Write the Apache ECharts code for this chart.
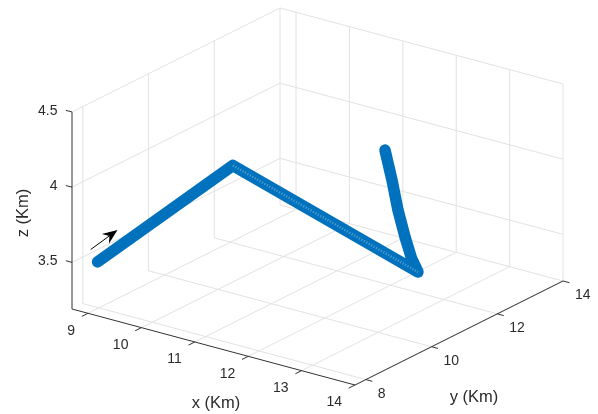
<!DOCTYPE html>
<html>
<head>
<meta charset="utf-8">
<style>html,body{margin:0;padding:0;background:#fff}#c{width:598px;height:414px}</style>
<script src="https://cdn.jsdelivr.net/npm/echarts@6/dist/echarts.min.js"></script>
</head>
<body>
<div id="c"></div>
<script>
// Data
const xTicks = [9, 10, 11, 12, 13, 14];
const yTicks = [8, 10, 12, 14];
const zTicks = [3.5, 4, 4.5];
const xLimits = [8.7, 14];
const yLimits = [7.67, 14];
const zLimits = [3.19, 4.5];
const trackX = [9, 10.13, 13.155, 13.033, 12.912, 12.78, 12.668, 12.537];
const trackY = [7.96, 10.24, 10.96, 10.96, 10.96, 10.96, 10.96, 10.96];
const trackZ = [3.5, 4, 3.501, 3.582, 3.711, 3.8775, 4.066, 4.253];
const xTitle = 'x (Km)', yTitle = 'y (Km)', zTitle = 'z (Km)';
const arrowFrom = [90.7, 249.5];
const arrowTo = [117.5, 230];

// View projection of the 3-D axes box onto the page
function P(x, y, z) {
  const dx = x - xLimits[0], dy = y - yLimits[0], dz = z - zLimits[0];
  return [72 + 53.4 * dx + 32.86 * dy, 309 + 14.34 * dx - 16.43 * dy - 150.4 * dz];
}
const GRID = '#e2e2e2', AXIS = '#333333', TEXT = '#2b2b2b', BLUE = '#0072BD';
const series = [];
function seg(a, b, color, w) {
  series.push({type: 'line', data: [a, b], showSymbol: false, symbol: 'none', silent: true,
    lineStyle: {color: color, width: w}, z: 2, animation: false});
}
const [x0, x1] = xLimits, [y0, y1] = yLimits, [z0, z1] = zLimits;
// walls and floor grid
yTicks.forEach(y => { seg(P(x0, y, z0), P(x0, y, z1), GRID, 1); seg(P(x0, y, z0), P(x1, y, z0), GRID, 1); });
xTicks.forEach(x => { seg(P(x, y1, z0), P(x, y1, z1), GRID, 1); seg(P(x, y0, z0), P(x, y1, z0), GRID, 1); });
zTicks.forEach(z => { seg(P(x0, y0, z), P(x0, y1, z), GRID, 1); seg(P(x0, y1, z), P(x1, y1, z), GRID, 1); });
// axes
seg(P(x0, y0, z0), P(x0, y0, z1), AXIS, 1);
seg(P(x0, y0, z0), P(x1, y0, z0), AXIS, 1);
seg(P(x1, y0, z0), P(x1, y1, z0), AXIS, 1);
// ticks
zTicks.forEach(z => seg(P(x0, y0, z), P(x0 - 0.115, y0, z), AXIS, 1));
xTicks.forEach(x => seg(P(x, y0, z0), P(x, y0 - 0.19, z0), AXIS, 1));
yTicks.forEach(y => seg(P(x1, y, z0), P(x1 + 0.12, y, z0), AXIS, 1));
// trajectory
const trackPts = trackX.map((x, i) => P(x, trackY[i], trackZ[i]));
series.push({type: 'line', name: 'track', data: trackPts,
  showSymbol: false, symbol: 'none', silent: true, z: 5, animation: false,
  lineStyle: {color: BLUE, width: 11.5, cap: 'round', join: 'round'}});
// lighter core where the overlapping ring markers are less dense
series.push({type: 'line', data: trackPts.slice(1, 3), showSymbol: false, symbol: 'none', silent: true, z: 6, animation: false,
  lineStyle: {color: '#a8d0ea', width: 2.5, type: [1.2, 1.6], opacity: 0.45}});
// arrow annotation
series.push({type: 'custom', silent: true, z: 6, animation: false, clip: false,
  data: [[arrowFrom[0], arrowFrom[1], arrowTo[0], arrowTo[1]]],
  renderItem: (params, api) => {
    const a = api.coord([api.value(0), api.value(1)]), b = api.coord([api.value(2), api.value(3)]);
    const L = Math.hypot(b[0] - a[0], b[1] - a[1]), ux = (b[0] - a[0]) / L, uy = (b[1] - a[1]) / L;
    const at = (along, side) => [b[0] - ux * along - uy * side, b[1] - uy * along + ux * side];
    return {type: 'group', children: [
      {type: 'line', shape: {x1: a[0], y1: a[1], x2: at(9, 0)[0], y2: at(9, 0)[1]}, style: {stroke: '#000', lineWidth: 1}},
      {type: 'polygon', shape: {points: [at(0, 0), at(15, 6), at(10, 0), at(15, -6)]}, style: {fill: '#000'}}
    ]};
  }});
// text
const labels = [];
zTicks.forEach(z => { const p = P(x0, y0, z); labels.push({t: String(z), x: p[0] - 14.5, y: p[1] - 1, a: 'right', s: 14}); });
xTicks.forEach(x => { const p = P(x, y0, z0); labels.push({t: String(x), x: p[0] - 13, y: p[1] + 17.5, a: 'right', s: 14}); });
yTicks.forEach(y => { const p = P(x1, y, z0); labels.push({t: String(y), x: p[0] + 12, y: p[1] + 14.5, a: 'left', s: 14}); });
labels.push({t: xTitle, x: 216, y: 403, a: 'center', s: 16.5});
labels.push({t: yTitle, x: 474, y: 397, a: 'center', s: 16.5});
labels.push({t: zTitle, x: 23, y: 213, a: 'center', s: 16.5, r: Math.PI / 2});
series.push({type: 'custom', silent: true, z: 7, animation: false, clip: false,
  data: labels.map((l, i) => [l.x, l.y, i]),
  renderItem: (params, api) => {
    const l = labels[params.dataIndex], c = api.coord([l.x, l.y]);
    return {type: 'text', x: c[0], y: c[1], rotation: l.r || 0,
      style: {text: l.t, fill: TEXT, font: l.s + 'px "Liberation Sans", Arial, sans-serif', align: l.a, verticalAlign: 'middle'}};
  }});

const chart = echarts.init(document.getElementById('c'), null, {renderer: 'canvas'});
chart.setOption({
  animation: false, backgroundColor: '#fff',
  grid: {left: 0, right: 0, top: 0, bottom: 0},
  xAxis: {type: 'value', min: 0, max: 598, show: false},
  yAxis: {type: 'value', min: 0, max: 414, inverse: true, show: false},
  series: series
});
</script>
</body>
</html>
